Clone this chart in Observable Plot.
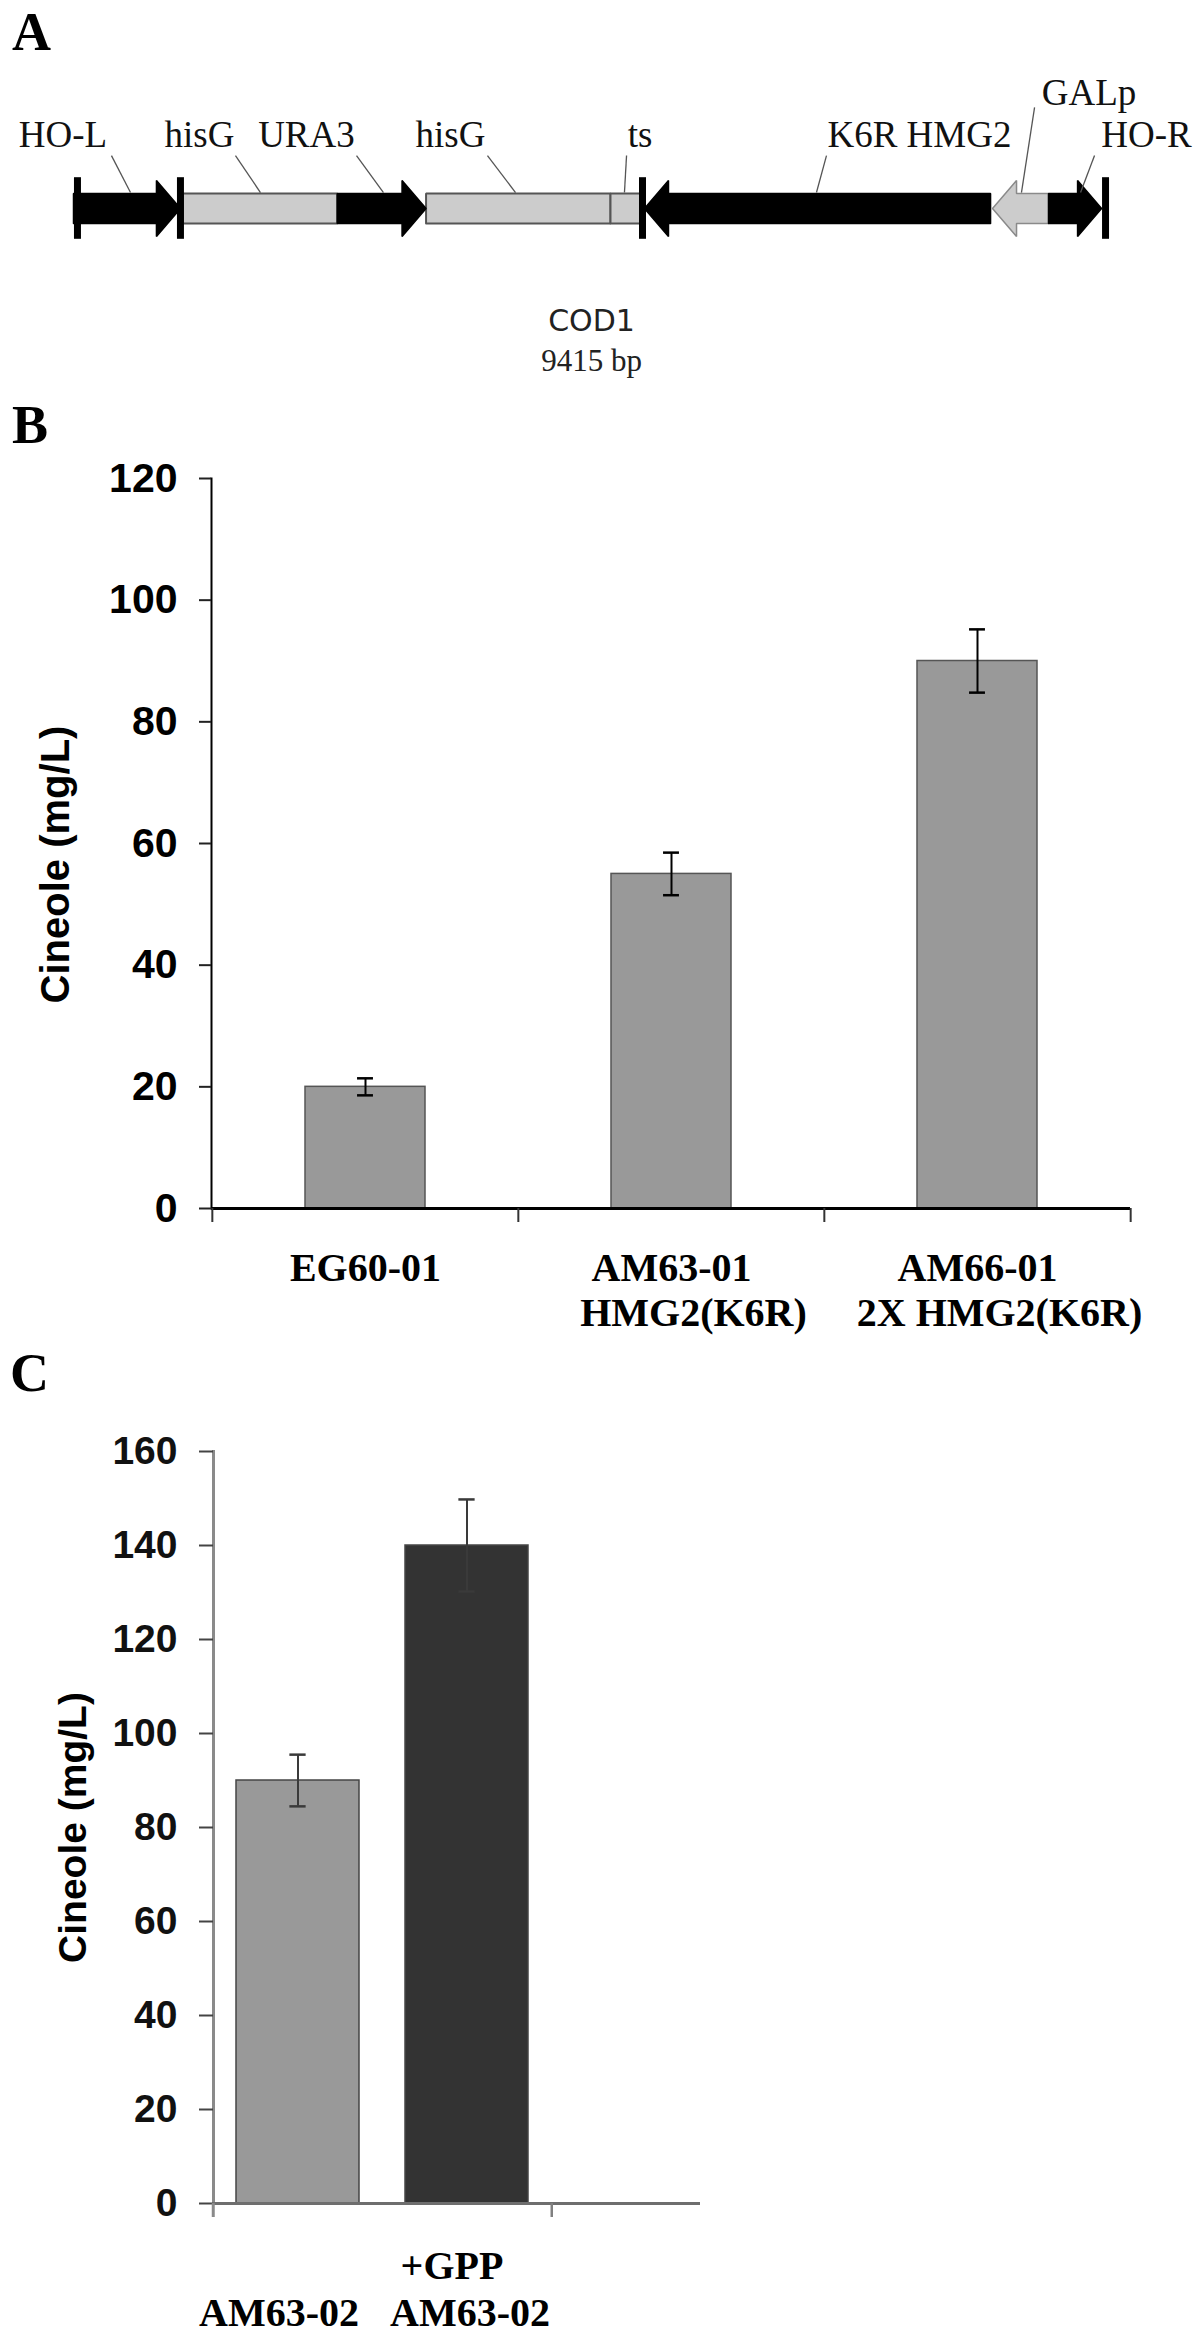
<!DOCTYPE html>
<html>
<head>
<meta charset="utf-8">
<script src="https://cdn.jsdelivr.net/npm/d3@7"></script>
<script src="https://cdn.jsdelivr.net/npm/@observablehq/plot@0.6"></script>
<style>
  body { margin: 0; background: #fff; }
  #page { position: relative; width: 1200px; height: 2344px; overflow: hidden; background: #fff; }
  .panel { position: absolute; left: 0; }
  .letter { position: absolute; font-family: "Liberation Serif", "Times New Roman", serif; font-weight: bold; font-size: 54px; line-height: 54px; color: #000; }
</style>
</head>
<body>
<div id="page"></div>
<script>
// ---------------- Panel A: COD1 construct (positions in bp along the cassette) ----------------
const constructName = "COD1";
const constructLength = 9415;
const featureNames = ["HO-L", "hisG", "URA3", "hisG", "ts", "K6R HMG2", "GALp", "HO-R"];
const featureStart = [0, 995, 2397, 3204, 4880, 5189, 8352, 8861];
const featureEnd   = [972, 2397, 3204, 4880, 5153, 8334, 8861, 9343];
const featureShape = ["right", "box", "right", "box", "box", "left", "left", "right"];
const featureTone  = ["black", "light", "black", "light", "light", "black", "light", "black"];
const junctions = [36, 972, 5171, 9379];
// label placement (bp along construct, row above the track) and leader lines
const labelCenter = [-95, 1145, 2117, 3426, 5148, 7688, 9229, 9751];
const labelRow    = [2.18, 2.18, 2.18, 2.18, 2.18, 2.18, 3.68, 2.18];
const leaderFrom  = [345, 1472, 2572, 3762, 5026, 6843, 8734, 9279];
const leaderTop   = [1.89, 1.89, 1.89, 1.89, 1.89, 1.89, 3.61, 1.89];
const leaderTo    = [518, 1699, 2817, 4017, 5007, 6752, 8615, 9152];

// ---------------- Panel B ----------------
const strainsB = ["EG60-01", "AM63-01", "AM66-01"];
const genotypesB = ["", "HMG2(K6R)", "2X HMG2(K6R)"];
const cineoleB = [20, 55, 90];
const errorB = [1.4, 3.5, 5.2];
const yTicksB = [0, 20, 40, 60, 80, 100, 120];

// ---------------- Panel C ----------------
const samplesC = ["AM63-02", "+GPP AM63-02"];
const topLineC = ["", "+GPP"];
const bottomLineC = ["AM63-02", "AM63-02"];
const cineoleC = [90, 140];
const errorC = [5.5, 9.8];
const fillC = ["#999999", "#333333"];
const yTicksC = [0, 20, 40, 60, 80, 100, 120, 140, 160];

const yLabel = "Cineole (mg/L)";
const sans = "'Liberation Sans', Arial, sans-serif";
const serif = "'Liberation Serif', 'Times New Roman', serif";

const page = document.getElementById("page");
function place(node, top) {
  const d = document.createElement("div");
  d.className = "panel";
  d.style.top = top + "px";
  d.appendChild(node);
  page.appendChild(d);
}

// ---------- Panel A ----------
{
  const W = 1200, mL = 73, mR = 91;
  const headPx = 24;
  const headBp = headPx * constructLength / (W - mL - mR);
  const body = 0.54;
  const feats = featureNames.map((name, i) => ({
    id: i, name, start: featureStart[i], end: featureEnd[i], shape: featureShape[i], tone: featureTone[i]
  }));
  function outline(f) {
    const s = f.start, e = f.end, h = headBp, b = body;
    if (f.shape === "box") return [[s, -b], [s, b], [e, b], [e, -b], [s, -b]];
    if (f.shape === "right") return [[s, -b], [s, b], [e - h, b], [e - h, 1], [e, 0], [e - h, -1], [e - h, -b], [s, -b]];
    return [[e, -b], [e, b], [s + h, b], [s + h, 1], [s, 0], [s + h, -1], [s + h, -b], [e, -b]];
  }
  const pts = feats.flatMap(f => outline(f).map(([x, y]) => ({id: f.id, tone: f.tone, shape: f.shape, x, y})));
  const labels = featureNames.map((t, i) => ({
    text: t, x: labelCenter[i], y: labelRow[i], lx1: leaderFrom[i], ly1: leaderTop[i], lx2: leaderTo[i], ly2: 0.57
  }));
  const chartA = Plot.plot({
    width: W, height: 400, marginLeft: mL, marginRight: mR, marginTop: 0, marginBottom: 0,
    x: {domain: [0, constructLength], axis: null},
    y: {domain: [-1, 1], range: [236, 180], axis: null},
    style: {background: "transparent"},
    marks: [
      Plot.line(pts.filter(p => p.tone === "light" && p.shape === "box"), {x: "x", y: "y", z: "id", fill: "#cccccc", stroke: "#555", strokeWidth: 2, strokeLinejoin: "miter"}),
      Plot.line(pts.filter(p => p.tone === "light" && p.shape !== "box"), {x: "x", y: "y", z: "id", fill: "#cccccc", stroke: "#8a8a8a", strokeWidth: 1.5, strokeLinejoin: "miter"}),
      Plot.line(pts.filter(p => p.tone === "black"), {x: "x", y: "y", z: "id", fill: "#000", stroke: "#000", strokeWidth: 1.5, strokeLinejoin: "miter"}),
      Plot.ruleX(junctions, {x: d => d, y1: -1.1, y2: 1.1, stroke: "#000", strokeWidth: 7}),
      Plot.link(labels, {x1: "lx1", y1: "ly1", x2: "lx2", y2: "ly2", stroke: "#555", strokeWidth: 1.3}),
      Plot.text(labels, {x: "x", y: "y", text: "text", lineAnchor: "bottom", fontFamily: serif, fontSize: 37, fill: "#111"}),
      Plot.text([constructName], {x: constructLength / 2, y: -4.36, lineAnchor: "bottom", fontFamily: "'DejaVu Sans', sans-serif", fontSize: 30, fill: "#222"}),
      Plot.text([`${constructLength} bp`], {x: constructLength / 2, y: -5.79, lineAnchor: "bottom", fontFamily: serif, fontSize: 31, fill: "#222"})
    ]
  });
  place(chartA, 0);
}

// ---------- Panel B ----------
{
  const W = 1200, mL = 211, mR = 70;
  const padIn = 0.608, padOut = padIn / 2;
  const step = (W - mL - mR) / (strainsB.length - padIn + 2 * padOut);
  const bw = step * (1 - padIn);
  const capW = 16, capInset = (bw - capW) / 2;
  const data = strainsB.map((s, i) => ({strain: s, genotype: genotypesB[i], value: cineoleB[i], err: errorB[i]}));
  const chartB = Plot.plot({
    width: W, height: 900, marginTop: 38, marginBottom: 132, marginLeft: mL, marginRight: mR,
    x: {domain: strainsB, paddingInner: padIn, paddingOuter: padOut},
    y: {domain: [0, 120]},
    style: {fontFamily: sans, background: "transparent", color: "#000"},
    marks: [
      Plot.barY(data, {x: "strain", y: "value", fill: "#999999", stroke: "#555", strokeWidth: 1.5}),
      Plot.ruleX(data, {x: "strain", y1: d => d.value - d.err, y2: d => d.value + d.err, stroke: "#000", strokeWidth: 2}),
      Plot.tickY(data, {x: "strain", y: d => d.value + d.err, insetLeft: capInset, insetRight: capInset, stroke: "#000", strokeWidth: 2.5}),
      Plot.tickY(data, {x: "strain", y: d => d.value - d.err, insetLeft: capInset, insetRight: capInset, stroke: "#000", strokeWidth: 2.5}),
      Plot.frame({anchor: "left", stroke: "#000", strokeWidth: 2}),
      Plot.ruleY([0], {stroke: "#000", strokeWidth: 3}),
      Plot.axisY({ticks: yTicksB, tickSize: 12, tickPadding: 22, label: null, fontSize: 41, fontWeight: "bold", fontFamily: sans, stroke: "#222", strokeWidth: 2, fill: "#000"}),
      Plot.axisX({ticks: strainsB, tickSize: 14, tickFormat: () => "", label: null, dx: -step / 2, stroke: "#333", strokeWidth: 2}),
      Plot.axisX({ticks: strainsB.slice(-1), tickSize: 14, tickFormat: () => "", label: null, dx: step / 2, stroke: "#333", strokeWidth: 2}),
      Plot.text(data, {x: "strain", y: 0, text: "strain", lineAnchor: "bottom", dy: 72, fontFamily: serif, fontWeight: "bold", fontSize: 40, fill: "#000"}),
      Plot.text(data, {x: "strain", y: 0, text: "genotype", lineAnchor: "bottom", dx: 22, dy: 117, fontFamily: serif, fontWeight: "bold", fontSize: 40, fill: "#000"}),
      Plot.text([yLabel], {frameAnchor: "left", rotate: -90, dx: -155, dy: 21, lineAnchor: "middle", textAnchor: "middle", fontFamily: sans, fontWeight: "bold", fontSize: 40, fill: "#000"})
    ]
  });
  place(chartB, 440);
}

// ---------- Panel C ----------
{
  const W = 1200, mL = 213, mR = 500, categoryWidth = 339;
  const padIn = 0.27, padOut = 0.135;
  const step = categoryWidth / (samplesC.length - padIn + 2 * padOut);
  const bw = step * (1 - padIn);
  const edge = bw / 2 + padOut * step;
  const capW = 17, capInset = (bw - capW) / 2;
  const data = samplesC.map((s, i) => ({sample: s, top: topLineC[i], bottom: bottomLineC[i], value: cineoleC[i], err: errorC[i]}));
  const labelFont = {fontFamily: serif, fontWeight: "bold", fontSize: 40, fill: "#000", lineAnchor: "bottom"};
  const chartC = Plot.plot({
    width: W, height: 944, marginTop: 51, marginBottom: 141, marginLeft: mL, marginRight: mR,
    x: {domain: samplesC, range: [mL, mL + categoryWidth], paddingInner: padIn, paddingOuter: padOut},
    y: {domain: [0, 160]},
    color: {type: "ordinal", domain: samplesC, range: fillC},
    style: {fontFamily: sans, background: "transparent", color: "#000"},
    marks: [
      Plot.barY(data, {x: "sample", y: "value", fill: "sample", stroke: "#454545", strokeWidth: 1.5}),
      Plot.ruleX(data, {x: "sample", y1: d => d.value - d.err, y2: d => d.value + d.err, stroke: "#3a3a3a", strokeWidth: 2}),
      Plot.tickY(data, {x: "sample", y: d => d.value + d.err, insetLeft: capInset, insetRight: capInset, stroke: "#3a3a3a", strokeWidth: 2.5}),
      Plot.tickY(data, {x: "sample", y: d => d.value - d.err, insetLeft: capInset, insetRight: capInset, stroke: "#3a3a3a", strokeWidth: 2.5}),
      Plot.frame({anchor: "left", stroke: "#8a8a8a", strokeWidth: 3}),
      Plot.ruleY([0], {stroke: "#6e6e6e", strokeWidth: 3}),
      Plot.axisY({ticks: yTicksC, tickSize: 14, tickPadding: 22, label: null, fontSize: 39, fontWeight: "bold", fontFamily: sans, stroke: "#444", strokeWidth: 2, fill: "#111"}),
      Plot.axisX({ticks: samplesC.slice(0, 1), tickSize: 14, tickFormat: () => "", label: null, dx: -edge, stroke: "#8a8a8a", strokeWidth: 3}),
      Plot.axisX({ticks: samplesC.slice(-1), tickSize: 14, tickFormat: () => "", label: null, dx: edge, stroke: "#808080", strokeWidth: 2.5}),
      Plot.text(data.slice(1), {x: "sample", y: 0, text: "top", dx: -15, dy: 75, ...labelFont}),
      Plot.text(data.slice(0, 1), {x: "sample", y: 0, text: "bottom", dx: -19, dy: 122, ...labelFont}),
      Plot.text(data.slice(1), {x: "sample", y: 0, text: "bottom", dx: 3, dy: 122, ...labelFont}),
      Plot.text([yLabel], {frameAnchor: "left", rotate: -90, dx: -140, dy: 0, lineAnchor: "middle", textAnchor: "middle", fontFamily: sans, fontWeight: "bold", fontSize: 39, fill: "#000"})
    ]
  });
  place(chartC, 1400);
}

// panel letters
[["A", 12, 5], ["B", 12, 398], ["C", 10, 1346]].forEach(([t, x, y]) => {
  const d = document.createElement("div");
  d.className = "letter";
  d.textContent = t;
  d.style.left = x + "px";
  d.style.top = y + "px";
  page.appendChild(d);
});
</script>
</body>
</html>
